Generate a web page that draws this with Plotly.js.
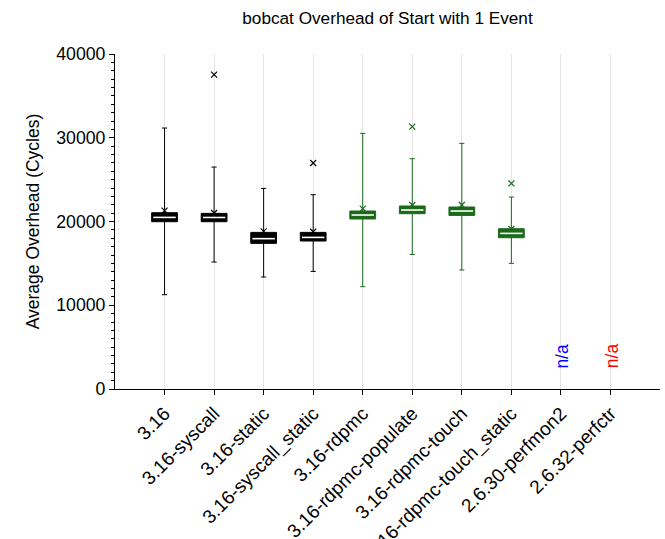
<!DOCTYPE html>
<html>
<head>
<meta charset="utf-8">
<script src="https://cdn.plot.ly/plotly-3.0.1.min.js"></script>
<style>html,body{margin:0;padding:0;background:#fff;}#chart{width:665px;height:539px;}</style>
</head>
<body>
<div id="chart"></div>
<script>
// ---- data ----
var categories = ['3.16','3.16-syscall','3.16-static','3.16-syscall_static','3.16-rdpmc','3.16-rdpmc-populate','3.16-rdpmc-touch','3.16-rdpmc-touch_static','2.6.30-perfmon2','2.6.32-perfctr'];
var blackCats = ['3.16','3.16-syscall','3.16-static','3.16-syscall_static'];
var greenCats = ['3.16-rdpmc','3.16-rdpmc-populate','3.16-rdpmc-touch','3.16-rdpmc-touch_static'];

var blackLower  = [11260, 15160, 13370, 14040];
var blackQ1     = [19975, 19975, 17390, 17670];
var blackMedian = [20490, 20480, 17950, 18100];
var blackQ3     = [21050, 20970, 18700, 18700];
var blackUpper  = [31160, 26500, 23950, 23200];
var blackMean   = [21290, 21010, 18820, 18780];

var greenLower  = [12215, 16070, 14210, 15000];
var greenQ1     = [20300, 20930, 20730, 18065];
var greenMedian = [20775, 21370, 21250, 18580];
var greenQ3     = [21250, 21850, 21730, 19140];
var greenUpper  = [30520, 27500, 29330, 22920];
var greenMean   = [21530, 21970, 21970, 19100];

var blackOutlierCats = ['3.16-syscall','3.16-syscall_static'];
var blackOutliers    = [37530, 26985];
var greenOutlierCats = ['3.16-rdpmc-populate','3.16-rdpmc-touch_static'];
var greenOutliers    = [31320, 24550];

var naCats   = ['2.6.30-perfmon2','2.6.32-perfctr'];
var naLabel  = 'n/a';
var naY      = 3975;

var BLACK = '#000000';
var GREEN = '#1a6a1a';
var FONT = 'Liberation Sans, Arial, Helvetica, sans-serif';

function boxTrace(x, lo, q1, med, q3, hi, color) {
  return {
    type: 'box', x: x, lowerfence: lo, q1: q1, median: med, q3: q3, upperfence: hi,
    width: 0.52, whiskerwidth: 0.2, fillcolor: color,
    line: {color: color, width: 1}, boxpoints: false, hoverinfo: 'skip', showlegend: false
  };
}
function medianTrace(x, med) {
  return {type: 'scatter', mode: 'markers', x: x, y: med, hoverinfo: 'skip', showlegend: false,
    marker: {symbol: 'line-ew', size: 16, color: '#ffffff', line: {color: '#ffffff', width: 1.6}}};
}
function xTrace(x, y, color) {
  return {type: 'scatter', mode: 'markers', x: x, y: y, hoverinfo: 'skip', showlegend: false,
    marker: {symbol: 'x-thin', size: 6, color: color, line: {color: color, width: 1.2}}};
}

var data = [
  boxTrace(blackCats, blackLower, blackQ1, blackMedian, blackQ3, blackUpper, BLACK),
  boxTrace(greenCats, greenLower, greenQ1, greenMedian, greenQ3, greenUpper, GREEN),
  medianTrace(blackCats, blackMedian),
  medianTrace(greenCats, greenMedian),
  xTrace(blackCats, blackMean, BLACK),
  xTrace(greenCats, greenMean, GREEN),
  xTrace(blackOutlierCats, blackOutliers, BLACK),
  xTrace(greenOutlierCats, greenOutliers, GREEN)
];

var layout = {
  width: 665, height: 539,
  margin: {l: 115, r: 5, t: 54, b: 150, pad: 0},
  paper_bgcolor: '#fff', plot_bgcolor: '#fff',
  font: {family: FONT, size: 17, color: '#000'},
  boxmode: 'overlay',
  title: {text: 'bobcat Overhead of Start with 1 Event', font: {family: FONT, size: 17.2, color: '#000'},
          x: 0.5, xref: 'paper', xanchor: 'center', y: 0.967, yref: 'container', yanchor: 'middle'},
  xaxis: {
    type: 'category', categoryorder: 'array', categoryarray: categories,
    range: [-1, 10], showgrid: true, gridcolor: '#e6e6e6', gridwidth: 1,
    showline: true, linecolor: '#000', linewidth: 1,
    ticks: 'outside', ticklen: 5, tickcolor: '#000', tickangle: -45,
    tickfont: {family: FONT, size: 19, color: '#000'}, zeroline: false, fixedrange: true
  },
  yaxis: {
    range: [0, 40000], dtick: 10000, tick0: 0, tickformat: 'd', showgrid: false, zeroline: false,
    showline: true, linecolor: '#000', linewidth: 1,
    ticks: 'outside', ticklen: 5, tickcolor: '#000',
    minor: {dtick: 1000, ticks: 'outside', ticklen: 3, tickcolor: '#000', showgrid: false},
    tickfont: {family: FONT, size: 17.7, color: '#000'},
    title: {text: 'Average Overhead (Cycles)', font: {family: FONT, size: 17.5, color: '#000'}, standoff: 12},
    fixedrange: true
  },
  annotations: naCats.map(function(c, i) {
    return {x: c, y: naY, xref: 'x', yref: 'y', text: naLabel, showarrow: false, textangle: -90,
            font: {family: FONT, size: 17.5, color: i === 0 ? '#0000ff' : '#ff0000'}, xshift: 1};
  })
};

Plotly.newPlot('chart', data, layout, {displayModeBar: false, staticPlot: true});
</script>
</body>
</html>
